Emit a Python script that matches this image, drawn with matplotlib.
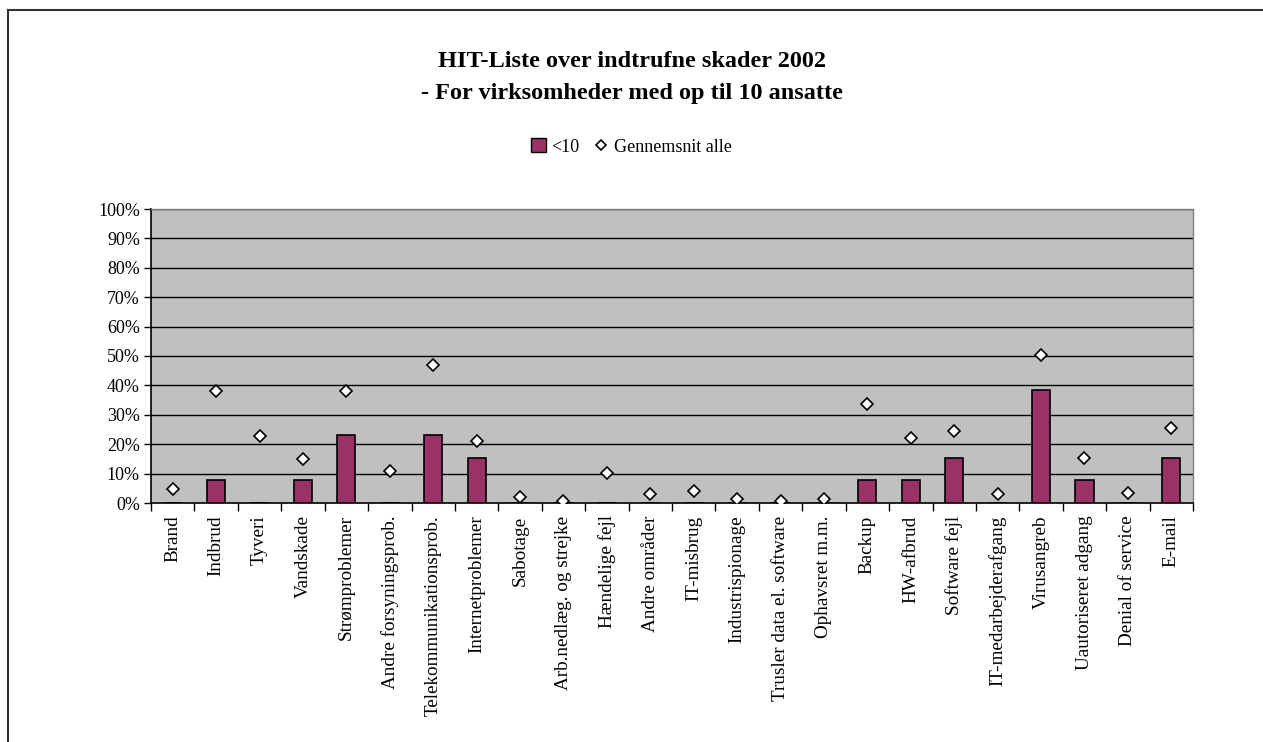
import matplotlib
matplotlib.use("Agg")
import matplotlib.pyplot as plt
from matplotlib.lines import Line2D
from matplotlib.patches import Patch
import numpy as np

categories = ["Brand", "Indbrud", "Tyveri", "Vandskade", "Strømproblemer",
              "Andre forsyningsprob.", "Telekommunikationsprob.", "Internetproblemer",
              "Sabotage", "Arb.nedlæg. og strejke", "Hændelige fejl", "Andre områder",
              "IT-misbrug", "Industrispionage", "Trusler data el. software",
              "Ophavsret m.m.", "Backup", "HW-afbrud", "Software fejl",
              "IT-medarbejderafgang", "Virusangreb", "Uautoriseret adgang",
              "Denial of service", "E-mail"]
under10 = [0, 7.7, 0, 7.7, 23.1, 0, 23.1, 15.4, 0, 0, 0, 0, 0, 0, 0, 0,
           7.7, 7.7, 15.4, 0, 38.5, 7.7, 0, 15.4]
avg_all = [4.6, 38.0, 22.8, 14.9, 38.0, 10.8, 47.0, 21.2, 1.9, 0.6, 10.3, 3.0,
           4.0, 1.3, 0.6, 1.3, 33.6, 22.2, 24.6, 3.0, 50.5, 15.4, 3.4, 25.6]
yticks = list(range(0, 101, 10))
series_names = ["<10", "Gennemsnit alle"]
title = "HIT-Liste over indtrufne skader 2002\n- For virksomheder med op til 10 ansatte"

plt.rcParams['font.family'] = ['Liberation Serif', 'DejaVu Serif']

W, H = 1263, 742
fig = plt.figure(figsize=(W / 100, H / 100), dpi=100)
fig.patch.set_facecolor("white")

# outer frame (left and top lines)
fig.add_artist(Line2D([7.5 / W, 7.5 / W], [0, 1 - 10 / H], color="#333333", lw=1.5,
                      transform=fig.transFigure))
fig.add_artist(Line2D([7.5 / W, 1], [1 - 10 / H, 1 - 10 / H], color="#333333", lw=1.5,
                      transform=fig.transFigure))

left, right, top, bottom = 151, 1193, 209, 503
ax = fig.add_axes([left / W, 1 - bottom / H, (right - left) / W, (bottom - top) / H])
ax.set_facecolor("#C0C0C0")

n = len(categories)
x = np.arange(n)
ax.bar(x, under10, width=0.42, color="#993366", edgecolor="black", linewidth=1.2, zorder=3)
ax.plot(x, avg_all, linestyle="none", marker="D", markersize=6.5, markerfacecolor="white",
        markeredgecolor="black", markeredgewidth=1.2, zorder=4)

ax.set_xlim(-0.5, n - 0.5)
ax.set_ylim(0, 100)
ax.set_yticks(yticks)
ax.set_yticklabels([f"{v}%" for v in yticks], fontsize=13)
for v in yticks[1:]:
    ax.axhline(v, color="black", lw=1, zorder=1)

ax.set_xticks(x)
ax.set_xticklabels(categories, rotation=90, fontsize=13.8, va="top")
ax.tick_params(axis="x", which="major", length=0, pad=9)
ax.set_xticks(np.arange(-0.5, n, 1), minor=True)
ax.tick_params(axis="x", which="minor", length=6, width=1, direction="out", color="black")
ax.tick_params(axis="y", length=5, width=1, direction="out", color="black", pad=3)

for s in ["top", "right"]:
    ax.spines[s].set_color("#808080")
    ax.spines[s].set_linewidth(1)
for s in ["left", "bottom"]:
    ax.spines[s].set_color("black")
    ax.spines[s].set_linewidth(1.2)

fig.text(0.5, 1 - 77.5 / H, title, ha="center", va="center", fontsize=17.5,
         fontweight="bold", linespacing=1.7)

handles = [Patch(facecolor="#993366", edgecolor="black", linewidth=1),
           Line2D([], [], linestyle="none", marker="D", markersize=5.5,
                  markerfacecolor="white", markeredgecolor="black", markeredgewidth=1.2)]
fig.legend(handles, series_names, loc="center", bbox_to_anchor=(0.5, 1 - 147 / H),
           ncol=2, frameon=False, fontsize=13, handlelength=0.8, handleheight=0.8,
           handletextpad=0.3, columnspacing=0.8)

fig.savefig("out.png", dpi=100)
